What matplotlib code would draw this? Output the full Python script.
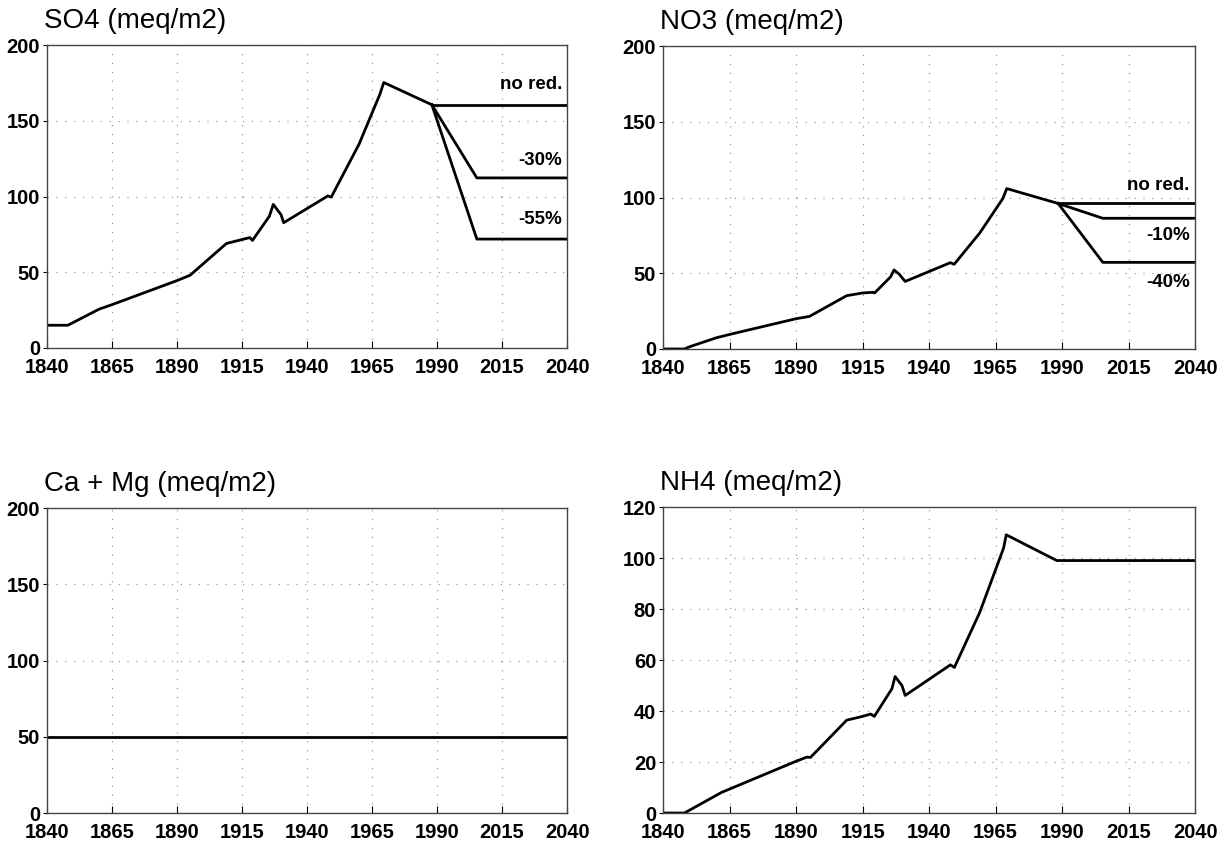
import numpy as np
import matplotlib.pyplot as plt

plt.rcParams['font.family'] = ['Liberation Sans', 'DejaVu Sans']

# SO4 deposition history (meq/m2)
so4_years = [1840, 1848, 1860, 1865, 1890, 1895, 1909, 1915, 1918, 1919, 1925.5, 1927,
             1930, 1931, 1948, 1949.3, 1960, 1968, 1969.5, 1988]
so4_vals = [15, 15, 25.6, 28.6, 44.5, 48, 69, 71.6, 72.9, 71, 87, 94.8,
            88, 82.7, 100.4, 99.6, 134.6, 167.5, 175.3, 160.6]
so4_scen = {'no red.': 160.6, '-30%': 112.3, '-55%': 71.9}

# NO3 deposition history (meq/m2)
no3_years = [1840, 1848, 1850, 1860, 1865, 1890, 1895, 1909, 1915, 1918.8, 1919.5,
             1925.5, 1926.8, 1928.8, 1931, 1948, 1949.4, 1959, 1967.7, 1969.2, 1988.5]
no3_vals = [0, 0, 1.5, 7.4, 9.6, 20, 21.5, 35.2, 37, 37.4, 37,
            47.6, 52.2, 49.3, 44.6, 57, 55.9, 76.5, 99.3, 105.9, 96.1]
no3_scen = {'no red.': 96.1, '-10%': 86.3, '-40%': 57.2}

# Ca + Mg
camg_years = [1840, 2040]
camg_vals = [50, 50]

# NH4
nh4_years = [1840, 1848, 1862, 1865, 1890, 1894, 1895.4, 1909, 1915, 1918, 1919.4,
             1926, 1927.2, 1929.8, 1931, 1948, 1949.5, 1959, 1968, 1969, 1988, 2040]
nh4_vals = [0, 0, 8.1, 9.4, 20.3, 21.9, 21.8, 36.4, 37.9, 38.8, 37.9,
            48.7, 53.5, 50, 46.1, 58.1, 57.1, 78.6, 103.9, 109.1, 99, 99]

scen_end = 2005.3
years_ticks = list(range(1840, 2041, 25))

# label positions (y in data units)
so4_lab = {'no red.': 174, '-30%': 124, '-55%': 85}
no3_lab = {'no red.': 108, '-10%': 75, '-40%': 44}

fig = plt.figure(figsize=(12.19, 8.46), dpi=100)
ax1 = fig.add_axes([0.0386, 0.5887, 0.4266, 0.358])
ax2 = fig.add_axes([0.544, 0.5875, 0.4364, 0.358])
ax3 = fig.add_axes([0.0386, 0.039, 0.4266, 0.3605])
ax4 = fig.add_axes([0.544, 0.039, 0.4364, 0.3617])


def style(ax, title, ymax, ystep):
    ax.set_xlim(1840, 2040)
    ax.set_ylim(0, ymax)
    ax.set_xticks(years_ticks)
    ax.set_yticks(np.arange(0, ymax + 1, ystep))
    ax.grid(True, color='#888888', linestyle=(0, (1, 7)), linewidth=0.8)
    for s in ax.spines.values():
        s.set_linewidth(1.0)
        s.set_color('#444444')
    ax.tick_params(axis='x', direction='in', length=5, pad=7, labelsize=14.5)
    ax.tick_params(axis='y', direction='out', length=3, pad=2, labelsize=14.5)
    for lab in ax.get_xticklabels() + ax.get_yticklabels():
        lab.set_fontweight('bold')
    ax.text(-0.005, 1.055, title, transform=ax.transAxes, ha='left', va='baseline',
            fontsize=20)


style(ax1, 'SO4 (meq/m2)', 200, 50)
style(ax2, 'NO3 (meq/m2)', 200, 50)
style(ax3, 'Ca + Mg (meq/m2)', 200, 50)
style(ax4, 'NH4 (meq/m2)', 120, 20)

lw = 2.0
ax1.plot(so4_years, so4_vals, color='black', lw=lw)
for name, v in so4_scen.items():
    ax1.plot([so4_years[-1], scen_end, 2040], [so4_vals[-1], v, v], color='black', lw=lw)
    ax1.text(2038, so4_lab[name], name, ha='right', va='center', fontsize=13.5,
             fontweight='bold')

ax2.plot(no3_years, no3_vals, color='black', lw=lw)
for name, v in no3_scen.items():
    ax2.plot([no3_years[-1], scen_end, 2040], [no3_vals[-1], v, v], color='black', lw=lw)
    ax2.text(2038, no3_lab[name], name, ha='right', va='center', fontsize=13.5,
             fontweight='bold')

ax3.plot(camg_years, camg_vals, color='black', lw=lw)
ax4.plot(nh4_years, nh4_vals, color='black', lw=lw)

fig.savefig('out.png', dpi=100)
